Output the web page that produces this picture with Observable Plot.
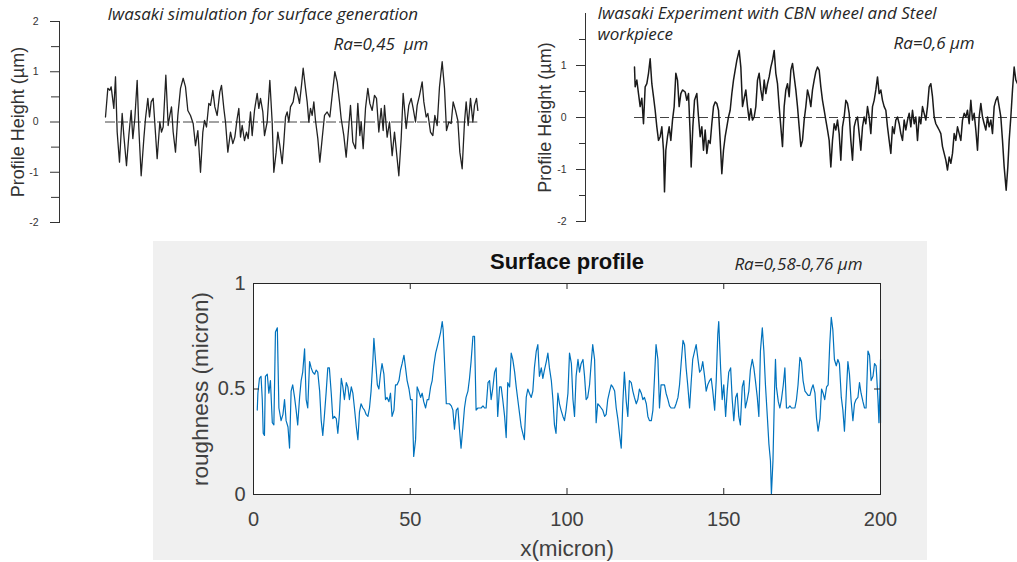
<!DOCTYPE html>
<html><head><meta charset="utf-8">
<script src="https://cdn.jsdelivr.net/npm/d3@7"></script>
<script src="https://cdn.jsdelivr.net/npm/@observablehq/plot@0.6"></script>
<style>
body{margin:0;background:#fff;}
#wrap{position:relative;width:1017px;height:562px;overflow:hidden;background:#fff;}
#wrap > div{position:absolute;}
</style></head><body>
<div id="wrap"><div id="p1" style="left:0;top:0"></div><div id="p2" style="left:500px;top:0"></div><div id="p3" style="left:153px;top:241px"></div></div>
<script>
// ---------- Panel 1: Iwasaki simulation (sample position, profile height µm) ----------
const simTitle = "Iwasaki simulation for surface generation";
const simRa = "Ra=0,45  µm";
const simLabeledTicks = [-2, -1, 0, 1, 2];
const simMinorTicks = [-1.5, -0.5, 0.5, 1.5];
const simProfile = [[15,0.10],[22,0.67],[28,0.63],[32,0.70],[40,0.27],[45,0.90],[50,-0.20],[57,-0.80],[65,0.17],[70,-0.27],[78,-0.87],[85,-0.27],[92,0.23],[97,-0.33],[103,0.07],[110,0.83],[115,-0.13],[122,-1.07],[130,-0.33],[135,0.07],[142,0.47],[147,0.10],[152,0.40],[158,0.47],[162,0.07],[170,-0.73],[178,0.00],[183,-0.20],[188,-0.10],[196,0.93],[203,-0.07],[208,0.13],[213,0.30],[218,-0.20],[225,-0.60],[232,0.13],[240,0.67],[248,0.87],[255,0.70],[262,0.23],[270,0.13],[278,-0.03],[285,-0.47],[292,-0.17],[300,-1.00],[307,-0.20],[312,0.03],[318,-0.10],[325,0.37],[330,0.33],[337,0.63],[343,0.30],[350,0.13],[358,0.60],[363,0.73],[370,0.27],[375,0.00],[382,-0.60],[390,-0.20],[397,-0.43],[403,-0.30],[410,0.07],[415,0.27],[420,-0.30],[425,-0.07],[432,-0.37],[438,-0.20],[443,-0.33],[450,0.20],[455,-0.27],[462,0.23],[470,0.57],[475,0.27],[480,0.47],[487,0.20],[492,-0.27],[500,0.00],[508,0.83],[515,0.00],[520,-1.00],[527,-0.60],[532,-0.20],[538,-0.47],[545,-0.83],[550,-0.40],[555,0.10],[560,0.20],[565,0.00],[570,0.30],[578,0.40],[585,0.70],[592,0.53],[597,0.37],[603,0.73],[608,1.07],[615,0.67],[620,0.40],[625,0.00],[630,0.27],[635,0.13],[640,0.40],[645,0.03],[652,-0.33],[658,-0.80],[665,-0.33],[672,0.13],[680,0.20],[688,0.10],[695,0.53],[703,1.00],[710,0.80],[717,0.40],[722,0.07],[730,-0.27],[737,-0.70],[745,-0.07],[750,0.33],[757,-0.40],[765,-0.53],[772,0.37],[778,-0.27],[782,0.00],[788,-0.53],[795,0.27],[802,0.67],[808,0.37],[815,0.23],[822,0.53],[828,0.47],[835,-0.20],[842,0.27],[848,-0.17],[852,0.33],[860,-0.30],[867,0.00],[875,-0.67],[882,-0.20],[888,-0.60],[895,-1.07],[902,-0.33],[908,0.57],[912,0.27],[917,-0.13],[925,0.33],[932,0.47],[938,0.27],[945,0.00],[950,0.33],[957,0.53],[965,0.80],[970,0.40],[977,0.10],[982,0.17],[990,-0.20],[997,-0.27],[1003,0.13],[1010,-0.07],[1017,0.70],[1025,1.20],[1032,0.67],[1038,-0.17],[1045,0.00],[1052,-0.03],[1058,0.40],[1065,0.23],[1072,0.03],[1078,-0.60],[1085,-0.93],[1092,0.00],[1097,0.40],[1103,-0.07],[1110,0.47],[1117,0.00],[1122,0.33],[1128,0.47],[1132,0.23]];

// ---------- Panel 2: Iwasaki experiment ----------
const expTitle = ["Iwasaki Experiment with CBN wheel and Steel", "workpiece"];
const expRa = "Ra=0,6 µm";
const expLabeledTicks = [-2, -1, 0, 1];
const expMinorTicks = [-1.5, -0.5, 0.5, 1.5];
const expProfile = [[18,0.97],[20,0.59],[25,0.72],[30,0.46],[35,0.21],[40,0.37],[45,-0.12],[50,0.59],[55,0.65],[60,0.85],[65,1.13],[70,0.65],[75,0.40],[80,0.14],[85,-0.18],[90,-0.44],[95,-0.37],[100,-0.18],[105,-0.63],[108,-1.43],[112,-0.63],[117,-0.37],[122,-0.18],[127,-0.44],[132,-0.05],[137,0.21],[142,0.85],[147,0.72],[152,0.21],[157,0.46],[162,0.53],[170,0.49],[175,0.33],[180,0.46],[185,-0.31],[188,-0.95],[193,-0.18],[198,0.33],[205,0.46],[210,0.01],[215,-0.37],[220,-0.18],[225,-0.63],[230,-0.24],[235,-0.69],[240,-0.44],[245,-0.50],[250,-0.12],[255,0.21],[260,0.30],[265,0.27],[270,0.14],[275,-0.44],[280,-1.08],[285,-0.63],[290,-0.37],[295,-0.18],[300,0.01],[305,0.14],[310,0.46],[315,0.72],[320,0.91],[325,1.10],[332,1.29],[337,0.97],[342,0.21],[347,0.37],[352,0.53],[357,0.21],[362,-0.05],[367,0.17],[372,-0.05],[377,0.01],[382,0.21],[387,0.72],[392,0.85],[397,0.53],[402,0.33],[407,0.72],[412,0.46],[417,0.65],[422,0.78],[427,0.97],[432,1.10],[437,1.29],[442,0.85],[447,0.65],[452,0.21],[457,-0.18],[462,-0.56],[467,0.21],[472,0.53],[477,0.65],[482,0.40],[487,0.91],[492,1.04],[497,0.78],[502,0.53],[507,0.21],[512,-0.18],[517,-0.56],[522,-0.44],[527,-0.05],[532,0.21],[537,0.53],[542,0.40],[547,0.21],[552,0.53],[557,0.72],[562,0.88],[567,0.97],[572,0.91],[577,0.59],[582,0.33],[587,0.14],[592,-0.05],[597,-0.24],[602,-0.44],[607,-0.95],[612,-0.44],[617,-0.12],[622,-0.24],[627,-0.05],[632,-0.31],[637,-0.82],[642,-0.18],[647,0.01],[652,0.33],[657,0.27],[662,0.08],[667,-0.44],[672,-0.82],[677,-0.18],[682,-0.05],[687,0.01],[692,-0.31],[697,-0.63],[702,-0.18],[707,0.01],[712,-0.12],[717,0.21],[722,0.01],[727,-0.31],[732,0.21],[737,0.33],[742,0.53],[747,0.78],[752,0.46],[757,0.53],[762,0.33],[767,0.21],[772,0.14],[777,-0.18],[782,-0.44],[787,-0.69],[792,-0.18],[797,-0.31],[802,-0.05],[807,0.01],[812,-0.12],[817,-0.31],[822,-0.44],[827,-0.05],[832,-0.24],[837,-0.05],[842,0.08],[847,-0.18],[852,0.14],[857,-0.12],[862,0.01],[867,-0.44],[872,0.01],[877,-0.12],[882,0.21],[887,0.08],[892,-0.05],[897,0.21],[902,0.59],[907,0.65],[912,0.40],[917,0.01],[922,-0.12],[927,-0.18],[932,-0.24],[937,-0.31],[942,-0.56],[947,-0.69],[952,-0.82],[957,-1.01],[962,-0.76],[967,-0.88],[972,-0.69],[977,-0.31],[982,-0.44],[987,-0.18],[992,-0.31],[997,-0.44],[1002,-0.05],[1007,0.08],[1012,0.01],[1017,0.14],[1022,-0.12],[1027,0.33],[1032,-0.05],[1037,0.08],[1042,-0.24],[1047,-0.63],[1052,0.01],[1057,0.27],[1062,0.01],[1067,-0.12],[1072,-0.24],[1077,0.01],[1082,-0.18],[1087,-0.05],[1092,-0.31],[1097,0.21],[1102,0.33],[1107,0.40],[1112,0.21],[1117,0.01],[1122,-0.44],[1127,-0.95],[1133,-1.40],[1138,-0.95],[1142,-0.44],[1147,0.01],[1152,0.53],[1157,0.97],[1162,0.72],[1167,0.65]];

// ---------- Panel 3: Surface profile (x micron, roughness micron) ----------
const surfTitle = "Surface profile";
const surfRa = "Ra=0,58-0,76 µm";
const surfXLabel = "x(micron)";
const surfYLabel = "roughness (micron)";
const surfXTicks = [0, 50, 100, 150, 200];
const surfYTicks = [0, 0.5, 1];
const surfProfile = [[1.2,0.40],[1.4,0.48],[1.9,0.55],[2.4,0.56],[2.8,0.45],[3.1,0.29],[3.5,0.28],[3.8,0.56],[4.4,0.57],[4.9,0.48],[5.4,0.54],[6.0,0.34],[6.5,0.33],[7.0,0.77],[7.6,0.79],[8.1,0.41],[8.8,0.35],[9.4,0.38],[9.9,0.45],[10.4,0.35],[11.0,0.32],[11.5,0.22],[12.0,0.49],[12.5,0.52],[13.1,0.46],[13.6,0.40],[14.1,0.33],[14.7,0.46],[15.2,0.54],[15.7,0.58],[16.3,0.69],[16.8,0.45],[17.3,0.41],[17.9,0.63],[18.4,0.60],[18.9,0.58],[19.5,0.57],[20.0,0.59],[20.5,0.58],[21.1,0.49],[21.6,0.35],[22.1,0.28],[22.6,0.37],[23.2,0.49],[23.7,0.60],[24.2,0.60],[24.8,0.48],[25.3,0.36],[25.8,0.37],[26.4,0.36],[26.9,0.29],[27.4,0.38],[28.0,0.55],[28.5,0.51],[29.0,0.45],[29.6,0.53],[30.1,0.51],[30.6,0.45],[31.2,0.51],[31.7,0.48],[32.2,0.41],[32.8,0.32],[33.3,0.26],[33.8,0.39],[34.3,0.43],[34.9,0.41],[35.4,0.40],[35.9,0.38],[36.5,0.37],[37.0,0.41],[37.5,0.49],[38.1,0.64],[38.4,0.74],[38.9,0.64],[39.5,0.52],[40.0,0.50],[40.5,0.57],[41.0,0.62],[41.6,0.57],[42.1,0.45],[42.6,0.46],[43.2,0.44],[43.7,0.48],[44.2,0.37],[44.8,0.40],[45.3,0.52],[45.8,0.52],[46.4,0.54],[46.9,0.59],[47.4,0.62],[48.0,0.66],[48.5,0.60],[49.0,0.54],[49.6,0.50],[50.1,0.45],[50.6,0.45],[51.1,0.18],[51.7,0.26],[52.2,0.51],[52.7,0.49],[53.3,0.46],[53.8,0.48],[54.3,0.44],[54.9,0.41],[55.4,0.45],[55.9,0.45],[56.5,0.51],[57.0,0.54],[57.5,0.61],[58.1,0.67],[58.6,0.70],[59.1,0.73],[59.7,0.77],[60.2,0.82],[60.5,0.78],[60.9,0.64],[61.5,0.43],[62.0,0.43],[62.5,0.43],[63.1,0.42],[63.6,0.40],[64.1,0.31],[64.7,0.40],[65.2,0.41],[65.7,0.31],[66.2,0.22],[66.8,0.32],[67.3,0.41],[67.8,0.46],[68.4,0.49],[68.9,0.55],[69.4,0.63],[70.0,0.75],[70.5,0.75],[71.0,0.40],[71.6,0.41],[72.1,0.41],[72.6,0.41],[73.2,0.42],[73.7,0.41],[74.2,0.41],[74.8,0.53],[75.3,0.54],[75.8,0.45],[76.3,0.50],[76.9,0.58],[77.4,0.60],[77.9,0.37],[78.5,0.51],[79.0,0.51],[79.5,0.45],[80.1,0.37],[80.6,0.27],[81.1,0.53],[81.7,0.51],[82.2,0.67],[82.7,0.64],[83.3,0.58],[83.8,0.51],[84.3,0.45],[84.9,0.38],[85.4,0.32],[85.9,0.29],[86.4,0.26],[87.0,0.46],[87.5,0.50],[88.0,0.48],[88.6,0.46],[89.1,0.49],[89.6,0.60],[90.2,0.68],[90.7,0.71],[91.2,0.56],[91.8,0.60],[92.3,0.55],[92.8,0.59],[93.4,0.63],[93.9,0.67],[94.4,0.60],[95.0,0.54],[95.5,0.45],[96.0,0.33],[96.5,0.29],[97.1,0.48],[97.6,0.43],[98.1,0.40],[98.7,0.37],[99.2,0.35],[99.7,0.40],[100.3,0.48],[100.8,0.67],[101.4,0.62],[101.9,0.45],[102.4,0.37],[102.9,0.56],[103.5,0.64],[104.0,0.58],[104.5,0.62],[105.1,0.64],[105.6,0.56],[106.1,0.45],[106.6,0.46],[107.2,0.52],[107.7,0.62],[108.2,0.71],[108.8,0.64],[109.3,0.34],[109.8,0.43],[110.4,0.42],[110.9,0.41],[111.4,0.40],[112.0,0.37],[112.5,0.38],[113.0,0.45],[113.6,0.49],[114.1,0.52],[114.6,0.51],[115.2,0.49],[115.7,0.41],[116.2,0.36],[116.8,0.28],[117.3,0.22],[117.8,0.43],[118.3,0.58],[118.9,0.44],[119.4,0.37],[119.9,0.54],[120.5,0.53],[121.0,0.49],[121.5,0.46],[122.1,0.43],[122.6,0.45],[123.1,0.50],[123.7,0.48],[124.2,0.45],[124.7,0.46],[125.3,0.43],[125.8,0.37],[126.3,0.35],[126.9,0.35],[127.4,0.40],[127.9,0.55],[128.4,0.71],[129.0,0.64],[129.5,0.41],[130.0,0.52],[130.6,0.52],[131.1,0.52],[131.6,0.48],[132.2,0.45],[132.7,0.42],[133.2,0.41],[133.8,0.41],[134.3,0.41],[134.8,0.43],[135.4,0.46],[135.9,0.52],[136.4,0.62],[137.0,0.73],[137.5,0.71],[138.0,0.60],[138.5,0.52],[139.1,0.41],[139.6,0.53],[140.1,0.64],[140.7,0.68],[141.2,0.71],[141.7,0.65],[142.3,0.58],[142.8,0.59],[143.3,0.63],[143.9,0.56],[144.4,0.49],[144.9,0.52],[145.5,0.54],[146.0,0.55],[146.5,0.49],[147.1,0.40],[147.6,0.54],[148.1,0.76],[148.4,0.82],[149.0,0.60],[149.5,0.45],[150.0,0.52],[150.6,0.37],[151.1,0.49],[151.6,0.58],[152.2,0.60],[152.7,0.45],[153.2,0.35],[153.8,0.46],[154.3,0.48],[154.8,0.37],[155.3,0.33],[155.9,0.51],[156.4,0.54],[156.9,0.41],[157.5,0.45],[158.0,0.49],[158.5,0.59],[159.1,0.64],[159.6,0.60],[160.1,0.54],[160.7,0.46],[161.2,0.37],[161.7,0.68],[162.3,0.79],[162.8,0.68],[163.3,0.52],[163.9,0.37],[164.4,0.24],[164.9,0.16],[165.2,0.00],[165.7,0.16],[166.2,0.49],[166.5,0.64],[166.8,0.51],[167.4,0.44],[167.9,0.41],[168.4,0.45],[169.0,0.52],[169.5,0.60],[170.0,0.41],[170.6,0.41],[171.1,0.42],[171.6,0.41],[172.1,0.41],[172.7,0.41],[173.2,0.45],[173.7,0.52],[174.3,0.65],[174.8,0.63],[175.3,0.54],[175.9,0.49],[176.4,0.48],[176.9,0.47],[177.5,0.47],[178.0,0.50],[178.5,0.52],[179.1,0.48],[179.6,0.36],[180.1,0.30],[180.7,0.36],[181.2,0.50],[181.7,0.48],[182.2,0.45],[182.8,0.51],[183.3,0.52],[183.8,0.71],[184.3,0.84],[184.8,0.78],[185.3,0.64],[185.9,0.61],[186.4,0.64],[186.9,0.62],[187.5,0.46],[188.0,0.40],[188.5,0.30],[189.1,0.48],[189.6,0.63],[190.1,0.57],[190.6,0.45],[191.2,0.35],[191.7,0.43],[192.2,0.45],[192.8,0.46],[193.3,0.53],[193.8,0.48],[194.4,0.44],[194.9,0.41],[195.4,0.41],[196.0,0.68],[196.5,0.66],[197.0,0.54],[197.6,0.56],[198.1,0.62],[198.6,0.61],[199.2,0.45],[199.5,0.34],[199.8,0.49],[200,0.64],[200,0.34],[200,0.50]];

const yLabelTop = "Profile Height (µm)";
const sans = "Liberation Sans, Arial, Helvetica, sans-serif";
const annoFont = "Open Sans, Liberation Sans, sans-serif";
const X = d => d[0], Y = d => d[1];

// Panel 1
const p1 = Plot.plot({
  width: 500, height: 235,
  marginLeft: 59, marginRight: 15, marginTop: 21, marginBottom: 13,
  style: {fontFamily: sans, color: "#333", background: "transparent", overflow: "visible"},
  x: {domain: [0, 1155], range: [100, 485], axis: null},
  y: {domain: [-2, 2]},
  marks: [
    Plot.frame({anchor: "left", stroke: "#333"}),
    Plot.axisY(simMinorTicks, {tickSize: 8, tickFormat: () => "", label: null}),
    Plot.axisY(simLabeledTicks, {tickSize: 9, tickPadding: 12, fontSize: 10.5, tickFormat: d => String(d), label: null}),
    Plot.ruleY([0], {x1: d3.min(simProfile, X), x2: d3.max(simProfile, X), stroke: "#444", strokeDasharray: "10,3"}),
    Plot.line(simProfile, {x: X, y: Y, stroke: "#222", strokeWidth: 1.3}),
    Plot.text([yLabelTop], {text: d => d, frameAnchor: "left", dx: -41, rotate: -90, textAnchor: "middle", lineAnchor: "middle", fontSize: 18, fill: "#333"}),
    Plot.text([simTitle], {text: d => d, frameAnchor: "top-left", dx: 48, dy: -7, textAnchor: "start", lineAnchor: "middle", fontSize: 17, fontStyle: "italic", fontFamily: annoFont, fill: "#262626"}),
    Plot.text([simRa], {text: d => d, frameAnchor: "top-left", dx: 274, dy: 23, textAnchor: "start", lineAnchor: "middle", fontSize: 17, fontStyle: "italic", fontFamily: annoFont, fill: "#262626"})
  ]
});
document.getElementById("p1").append(p1);

// Panel 2
const p2 = Plot.plot({
  width: 517, height: 235,
  marginLeft: 85, marginRight: 0, marginTop: 13, marginBottom: 14,
  style: {fontFamily: sans, color: "#333", background: "transparent", overflow: "visible"},
  x: {domain: [0, 1167], range: [128, 517], axis: null},
  y: {domain: [-2, 2]},
  marks: [
    Plot.frame({anchor: "left", stroke: "#333"}),
    Plot.axisY(expMinorTicks, {tickSize: 6, tickFormat: () => "", label: null}),
    Plot.axisY(expLabeledTicks, {tickSize: 9, tickPadding: 10, fontSize: 10.5, tickFormat: d => String(d), label: null}),
    Plot.ruleY([0], {x1: d3.min(expProfile, X), x2: d3.max(expProfile, X), stroke: "#444", strokeDasharray: "9,4"}),
    Plot.line(expProfile, {x: X, y: Y, stroke: "#1a1a1a", strokeWidth: 1.5}),
    Plot.text([yLabelTop], {text: d => d, frameAnchor: "left", dx: -40, rotate: -90, textAnchor: "middle", lineAnchor: "middle", fontSize: 18, fill: "#333"}),
    Plot.text([expTitle.join("\n")], {text: d => d, frameAnchor: "top-left", dx: 12, dy: -10, textAnchor: "start", lineAnchor: "top", lineHeight: 1.25, fontSize: 17, fontStyle: "italic", fontFamily: annoFont, fill: "#262626"}),
    Plot.text([expRa], {text: d => d, frameAnchor: "top-left", dx: 308, dy: 30, textAnchor: "start", lineAnchor: "middle", fontSize: 17, fontStyle: "italic", fontFamily: annoFont, fill: "#262626"})
  ]
});
document.getElementById("p2").append(p2);

// Panel 3
const p3 = Plot.plot({
  width: 774, height: 319,
  marginLeft: 100, marginRight: 47, marginTop: 42, marginBottom: 66,
  style: {fontFamily: sans, color: "#262626", background: "#f0f0f0", overflow: "visible"},
  x: {domain: [0, 200]},
  y: {domain: [0, 1]},
  marks: [
    Plot.frame({fill: "white", stroke: "none"}),
    Plot.line(surfProfile, {x: X, y: Y, stroke: "#0072BD", strokeWidth: 1.2}),
    Plot.ruleX(surfXTicks, {x: d => d, insetTop: 205, stroke: "#262626"}),
    Plot.ruleX(surfXTicks, {x: d => d, insetBottom: 205, stroke: "#262626"}),
    Plot.ruleY(surfYTicks, {y: d => d, insetRight: 621, stroke: "#262626"}),
    Plot.ruleY(surfYTicks, {y: d => d, insetLeft: 621, stroke: "#262626"}),
    Plot.frame({stroke: "#262626"}),
    Plot.axisX(surfXTicks, {tickSize: 0, tickPadding: 17, fontSize: 20, tickFormat: d => String(d), label: null, fill: "#404040"}),
    Plot.axisY(surfYTicks, {tickSize: 0, tickPadding: 8, fontSize: 20, tickFormat: d => String(d), label: null, fill: "#404040"}),
    Plot.text([surfYLabel], {text: d => d, frameAnchor: "left", dx: -53, rotate: -90, textAnchor: "middle", lineAnchor: "middle", fontSize: 22.5, fill: "#404040"}),
    Plot.text([surfXLabel], {text: d => d, frameAnchor: "bottom", dy: 54, textAnchor: "middle", lineAnchor: "middle", fontSize: 22.5, fill: "#404040"}),
    Plot.text([surfTitle], {text: d => d, frameAnchor: "top", dy: -22, textAnchor: "middle", lineAnchor: "middle", fontSize: 22, fontWeight: "bold", fill: "#111"}),
    Plot.text([surfRa], {text: d => d, frameAnchor: "top-right", dx: -18, dy: -19, textAnchor: "end", lineAnchor: "middle", fontSize: 17, fontStyle: "italic", fontFamily: annoFont, fill: "#262626"})
  ]
});
document.getElementById("p3").append(p3);
</script>
</body></html>
